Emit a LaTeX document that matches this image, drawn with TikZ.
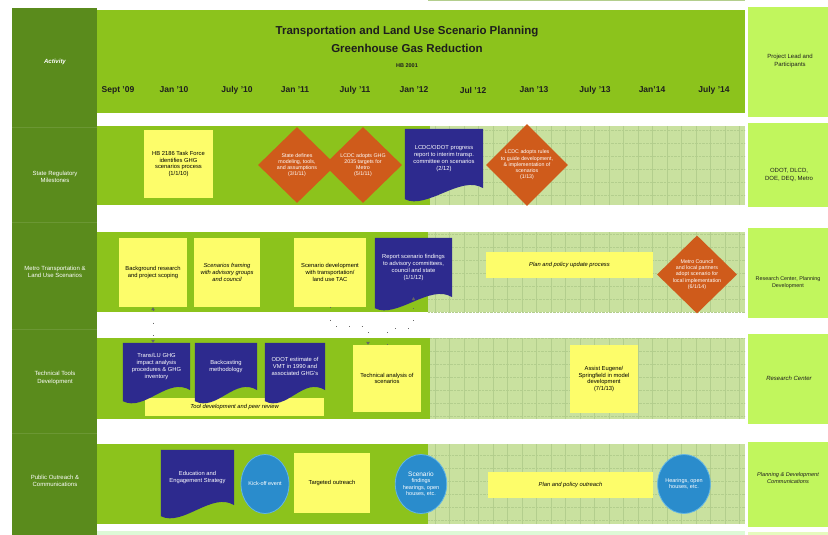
\documentclass[tikz,border=0pt]{standalone}
\usepackage{fontspec}
\setmainfont{Liberation Sans}
\usepackage{tikz}
\usetikzlibrary{shapes.geometric,calc,arrows.meta}
\pgfdeclarelayer{bglayer}
\pgfdeclarelayer{edgelayer}
\pgfdeclarelayer{nodelayer}
\pgfsetlayers{bglayer,edgelayer,nodelayer,main}
\definecolor{activitygreen}{HTML}{5A8B1C}
\definecolor{bandgreen}{HTML}{8CC31C}
\definecolor{palegreen}{HTML}{C9E19F}
\definecolor{gridgreen}{HTML}{B3CE8D}
\definecolor{leadgreen}{HTML}{C1F65D}
\definecolor{noteyellow}{HTML}{FDFD6A}
\definecolor{milestoneorange}{HTML}{CF5B1B}
\definecolor{reportnavy}{HTML}{2D2A8E}
\definecolor{eventblue}{HTML}{2A8CCC}
\definecolor{eventrim}{HTML}{62B6E6}
\definecolor{titlegray}{HTML}{1E1E1E}
\tikzstyle{none}=[inner sep=0pt]
\tikzstyle{note}=[rectangle, fill=noteyellow, inner sep=1pt, align=center, font=\fontsize{5.8}{6.8}\selectfont]
\tikzstyle{milestone}=[diamond, fill=milestoneorange, text=white, inner sep=0pt, align=center, minimum width=78pt, minimum height=76pt, font=\fontsize{5.3}{6.2}\selectfont]
\tikzstyle{report}=[rectangle, inner sep=1pt, text=white, align=center, font=\fontsize{5.8}{6.8}\selectfont]
\tikzstyle{event}=[ellipse, fill=eventblue, draw=eventrim, line width=0.8pt, text=white, inner sep=0pt, align=center, minimum width=48pt, minimum height=59pt, font=\fontsize{5.5}{6.4}\selectfont]
\tikzstyle{rowlabel}=[inner sep=0pt, text=white, align=center, font=\fontsize{6}{7.5}\selectfont]
\tikzstyle{leadlabel}=[inner sep=0pt, text=titlegray, align=center, font=\fontsize{6}{7.5}\selectfont]
\tikzstyle{date}=[inner sep=0pt, text=titlegray, font=\bfseries\fontsize{8.5}{10}\selectfont]
\tikzstyle{title}=[inner sep=0pt, text=titlegray, font=\bfseries\fontsize{11.5}{13}\selectfont]
\tikzstyle{gridline}=[draw=gridgreen, line width=0.4pt]
\tikzstyle{link}=[draw=black!60, line width=0.4pt, dash pattern=on 0.6pt off 12pt]
% wavy bottom of a document box
\newcommand{\docfill}[1]{\fill[reportnavy] (#1.north west) -- (#1.north east) -- (#1.south east) .. controls ($(#1.south east)+(-22,-14)$) and ($(#1.south west)+(22,22)$) .. ($(#1.south west)+(0,11)$) -- cycle;}

\begin{document}
\begin{tikzpicture}[x=1pt,y=-1pt]
	\useasboundingbox (0,0) rectangle (828,535);
	\begin{pgfonlayer}{bglayer}
		\fill[white] (0,0) rectangle (828,535);
		\fill[activitygreen] (12,8) rectangle (97,535);
		\draw[activitygreen!90!white, line width=0.5pt] (12,127) -- (97,127) (12,222) -- (97,222) (12,329) -- (97,329) (12,433) -- (97,433);
		\fill[bandgreen] (97,10) rectangle (745,113);
		\fill[bandgreen] (97,126) rectangle (430,205);
		\fill[bandgreen] (97,232) rectangle (428,312);
		\fill[bandgreen] (97,338) rectangle (430,419);
		\fill[bandgreen] (97,444) rectangle (428,524);
		\fill[palegreen] (430,126) rectangle (745,205);
		\fill[palegreen] (428,232) rectangle (745,312);
		\fill[palegreen] (430,338) rectangle (745,419);
		\fill[palegreen] (428,444) rectangle (745,524);
		\fill[green!40!palegreen!25] (97,531) rectangle (745,535);
		\draw[gridline] (430,205) grid[xstep=14.5pt, ystep=1000pt] (745,126) (428,312) grid[xstep=14.5pt, ystep=1000pt] (745,232) (430,419) grid[xstep=14.5pt, ystep=1000pt] (745,338) (428,524) grid[xstep=14.5pt, ystep=1000pt] (745,444);
		\draw[gridline, densely dotted] (430,205) grid[xstep=1000pt, ystep=13pt] (745,126) (428,312) grid[xstep=1000pt, ystep=13pt] (745,232) (430,419) grid[xstep=1000pt, ystep=13pt] (745,338) (428,524) grid[xstep=1000pt, ystep=13pt] (745,444);
		\fill[leadgreen] (748,7) rectangle (828,117);
		\fill[leadgreen] (748,123) rectangle (828,207);
		\fill[leadgreen] (748,228) rectangle (828,318);
		\fill[leadgreen] (748,334) rectangle (828,424);
		\fill[leadgreen] (748,442) rectangle (828,527);
		\fill[leadgreen!40] (748,532) rectangle (828,535);
		\node [style=note, minimum width=179pt, minimum height=18pt, font=\itshape\fontsize{5.8}{6.8}\selectfont] (16) at (234.5, 407) {Tool development and peer review};
	\end{pgfonlayer}
	\begin{pgfonlayer}{nodelayer}
		\node [style=title] (27) at (407, 32) {Transportation and Land Use Scenario Planning};
		\node [style=title] (28) at (407, 48) {Greenhouse Gas Reduction};
		\node [style=none, text=titlegray, font=\bfseries\fontsize{5.5}{6}\selectfont] (29) at (407, 66) {HB 2001};
		\node [style=date] (30) at (118, 90) {Sept '09};
		\node [style=date] (31) at (174, 90) {Jan '10};
		\node [style=date] (32) at (237, 90) {July '10};
		\node [style=date] (33) at (295, 90) {Jan '11};
		\node [style=date] (34) at (355, 90) {July '11};
		\node [style=date] (35) at (414, 90) {Jan '12};
		\node [style=date] (36) at (473, 90) {Jul '12};
		\node [style=date] (37) at (534, 90) {Jan '13};
		\node [style=date] (38) at (595, 90) {July '13};
		\node [style=date] (39) at (652, 90) {Jan'14};
		\node [style=date] (40) at (714, 90) {July '14};
		\node [style=rowlabel, font=\bfseries\itshape\fontsize{6}{7.5}\selectfont] (41) at (55, 62) {Activity};
		\node [style=rowlabel] (42) at (55, 177) {State Regulatory\\Milestones};
		\node [style=rowlabel] (43) at (55, 272) {Metro Transportation \&\\Land Use Scenarios};
		\node [style=rowlabel] (44) at (55, 378) {Technical Tools\\Development};
		\node [style=rowlabel] (45) at (55, 481) {Public Outreach \&\\Communications};
		\node [style=leadlabel] (46) at (790, 61) {Project Lead and\\Participants};
		\node [style=leadlabel] (5) at (789, 175) {ODOT, DLCD,\\DOE, DEQ, Metro};
		\node [style=leadlabel, font=\fontsize{5.4}{7}\selectfont] (12) at (788, 283) {Research Center, Planning\\Development};
		\node [style=leadlabel, font=\itshape\fontsize{6}{7.5}\selectfont] (19) at (789, 378) {Research Center};
		\node [style=leadlabel, font=\itshape\fontsize{5.6}{7.2}\selectfont] (26) at (788, 478) {Planning \& Development\\Communications};
		\node [style=note, minimum width=69pt, minimum height=68pt] (0) at (178.5, 164) {HB 2186 Task Force\\identifies GHG\\scenarios process\\(1/1/10)};
		\node [style=milestone] (1) at (297, 165) {State defines\\modeling, tools,\\and assumptions\\(3/1/11)};
		\node [style=milestone] (2) at (363, 165) {LCDC adopts GHG\\2035 targets for\\Metro\\(5/1/11)};
		\node [style=report, minimum width=78pt, minimum height=59pt] (3) at (444, 158.5) {LCDC/ODOT progress\\report to interim transp.\\committee on scenarios\\(2/12)};
		\node [style=milestone, minimum width=75pt, minimum height=75pt] (4) at (527, 165) {LCDC adopts rules\\to guide development,\\\& implementation of\\scenarios\\(1/13)};
		\node [style=note, minimum width=68pt, minimum height=69pt] (6) at (153, 272.5) {Background research\\and project scoping};
		\node [style=note, minimum width=66pt, minimum height=69pt, font=\itshape\fontsize{5.8}{6.8}\selectfont] (7) at (227, 272.5) {Scenarios framing\\with advisory groups\\and council};
		\node [style=note, minimum width=72pt, minimum height=69pt] (8) at (330, 272.5) {Scenario development\\with transportation/\\land use TAC};
		\node [style=report, minimum width=77pt, minimum height=59pt] (9) at (413.5, 267.5) {Report scenario findings\\to advisory committees,\\council and state\\(1/1/12)};
		\node [style=note, minimum width=167pt, minimum height=26pt, font=\itshape\fontsize{5.8}{6.8}\selectfont] (10) at (569.5, 265) {Plan and policy update process};
		\node [style=milestone, minimum width=80pt, minimum height=76pt] (11) at (697, 274.5) {Metro Council\\and local partners\\adopt scenario for\\local implementation\\(6/1/14)};
		\node [style=report, minimum width=67pt, minimum height=47pt] (13) at (156.5, 366.5) {Trans/LU GHG\\impact analysis\\procedures \& GHG\\inventory};
		\node [style=report, minimum width=62pt, minimum height=47pt] (14) at (226, 366.5) {Backcasting\\methodology};
		\node [style=report, minimum width=60pt, minimum height=47pt] (15) at (295, 366.5) {ODOT estimate of\\VMT in 1990 and\\associated GHG's};
		\node [style=note, minimum width=68pt, minimum height=67pt] (17) at (387, 378.5) {Technical analysis of\\scenarios};
		\node [style=note, minimum width=68pt, minimum height=68pt] (18) at (604, 379) {Assist Eugene/\\Springfield in model\\development\\(7/1/13)};
		\node [style=report, minimum width=73pt, minimum height=55pt] (20) at (197.5, 477.5) {Education and\\Engagement Strategy};
		\node [style=event] (21) at (265, 484) {Kick-off event};
		\node [style=note, minimum width=76pt, minimum height=60pt] (22) at (332, 483) {Targeted outreach};
		\node [style=event] (23) at (421, 484) {{\fontsize{6.5}{7.5}\selectfont Scenario}\\findings\\hearings, open\\houses, etc.};
		\node [style=note, minimum width=165pt, minimum height=26pt, font=\itshape\fontsize{5.8}{6.8}\selectfont] (24) at (570.5, 485) {Plan and policy outreach};
		\node [style=event] (25) at (684, 484) {Hearings, open\\houses, etc.};
		\coordinate (47) at (368, 326);
		\coordinate (48) at (387, 328);
	\end{pgfonlayer}
	\begin{pgfonlayer}{edgelayer}
		\docfill{3}
		\docfill{9}
		\docfill{13}
		\docfill{14}
		\docfill{15}
		\docfill{20}
		\draw [style=link, {Triangle[length=3pt,width=3.5pt]}-{Triangle[length=3pt,width=3.5pt]}] (6.south) to (6.south |- 13.north);
		\draw [style=link, -{Triangle[length=3pt,width=3.5pt]}] (8.south) |- (47) -- (47 |- 17.north);
		\draw [style=link, -{Triangle[length=3pt,width=3.5pt]}] (48 |- 17.north) -- (48) -| (9.south);
	\end{pgfonlayer}
\end{tikzpicture}
\end{document}
